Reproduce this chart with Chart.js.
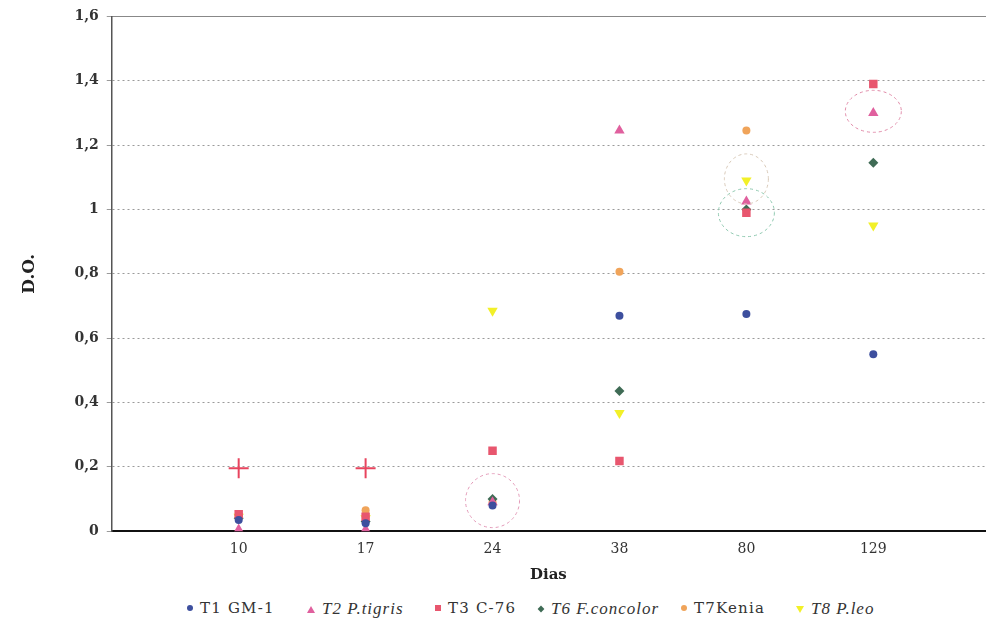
<!DOCTYPE html>
<html>
<head>
<meta charset="utf-8">
<script src="https://cdn.jsdelivr.net/npm/chart.js@4.4.1/dist/chart.umd.min.js"></script>
<style>
  html, body { margin: 0; padding: 0; background: #fff; }
  #wrap { position: relative; width: 989px; height: 584px; }
  #legend-container { position: relative; width: 989px; height: 42px; }
  .leg-li { position: absolute; top: 15px; display: flex; align-items: center; white-space: nowrap;
            font-family: "DejaVu Serif", "Liberation Serif", serif; font-size: 15px; letter-spacing: 1.2px; color: #333; }
  .leg-li i { font-family: "Liberation Serif", "DejaVu Serif", serif; font-size: 17px; letter-spacing: 1px; }
  .leg-box { display: inline-block; margin-right: 7px; }
</style>
</head>
<body>
<div id="wrap"><canvas id="myChart" width="989" height="584"></canvas></div>
<div id="legend-container"></div>
<script>
const days = ['10', '17', '24', '38', '80', '129'];
const yTicks = [0, 0.2, 0.4, 0.6, 0.8, 1, 1.2, 1.4, 1.6];

const t1 = [0.035, 0.025, 0.08, 0.67, 0.675, 0.55];
const t2 = [0.005, 0.005, 0.09, 1.245, 1.025, 1.30];
const t3 = [0.053, 0.045, 0.25, 0.218, 0.99, 1.39];
const t6 = [0.04, 0.03, 0.10, 0.436, 1.0, 1.145];
const t7 = [0.05, 0.065, 0.09, 0.806, 1.245, null];
const t8 = [0.045, 0.04, 0.685, 0.367, 1.09, 0.95];
const control = [0.196, 0.196, null, null, null, null];

// dashed rings drawn around some points: [day index, value, rx, ry, colour]
const rings = [
  [2, 0.095, 27, 27, '#e39ab8'],
  [4, 1.095, 22, 25, '#d8c9b8'],
  [4, 0.99, 28, 24, '#8fc9b0'],
  [5, 1.305, 28, 21, '#e08aa8']
];

function pts(arr) {
  return arr.map((v, i) => ({ x: i + 1, y: v }));
}

const ringPlugin = {
  id: 'rings',
  afterDatasetsDraw(chart) {
    const { ctx, scales } = chart;
    ctx.save();
    ctx.setLineDash([3, 3]);
    ctx.lineWidth = 1;
    rings.forEach(r => {
      const cx = scales.x.getPixelForValue(r[0] + 1);
      const cy = scales.y.getPixelForValue(r[1]);
      ctx.strokeStyle = r[4];
      ctx.beginPath();
      ctx.ellipse(cx, cy, r[2], r[3], 0, 0, Math.PI * 2);
      ctx.stroke();
    });
    ctx.restore();
  }
};

const series = [
  { label: 'T1 GM-1', html: 'T1 GM-1', data: t1, color: '#3d4f9e', style: 'circle', radius: 4, left: 187 },
  { label: 'T2 P.tigris', html: '<i>T2 P.tigris</i>', data: t2, color: '#e0609e', style: 'triangle', radius: 6, left: 307 },
  { label: 'T3 C-76', html: 'T3 C-76', data: t3, color: '#e8566e', style: 'rect', radius: 6, left: 435 },
  { label: 'T6 F.concolor', html: '<i>T6 F.concolor</i>', data: t6, color: '#3f6b55', style: 'rectRot', radius: 5, left: 538 },
  { label: 'T7Kenia', html: 'T7Kenia', data: t7, color: '#f0a45a', style: 'circle', radius: 4, left: 681 },
  { label: 'T8 P.leo', html: '<i>T8 P.leo</i>', data: t8, color: '#f2f028', style: 'triangle', radius: 6, rot: 180, left: 796 }
];

const datasets = series.map(s => ({
  label: s.label,
  data: pts(s.data),
  showLine: false,
  backgroundColor: s.color,
  borderColor: s.color,
  pointStyle: s.style,
  pointRadius: s.radius,
  pointRotation: s.rot || 0,
  borderWidth: 0
}));
datasets.push({
  label: '',
  data: pts(control),
  showLine: false,
  borderColor: '#e8445e',
  backgroundColor: '#e8445e',
  pointStyle: 'cross',
  pointRadius: 10,
  borderWidth: 2
});

// html legend so species names can be italic
const legendEl = document.getElementById('legend-container');
series.forEach(s => {
  const li = document.createElement('div');
  li.className = 'leg-li';
  li.style.left = s.left + 'px';
  const box = document.createElement('span');
  box.className = 'leg-box';
  box.style.width = '6px';
  box.style.height = '6px';
  box.style.background = s.color;
  if (s.style === 'circle') box.style.borderRadius = '4px';
  if (s.style === 'triangle') {
    box.style.background = 'none';
    box.style.width = '0';
    box.style.height = '0';
    box.style.borderLeft = '4px solid transparent';
    box.style.borderRight = '4px solid transparent';
    if (s.rot) box.style.borderTop = '7px solid ' + s.color;
    else box.style.borderBottom = '7px solid ' + s.color;
  }
  if (s.style === 'rectRot') box.style.transform = 'rotate(45deg) scale(0.8)';
  const p = document.createElement('span');
  p.innerHTML = s.html;
  li.append(box, p);
  legendEl.appendChild(li);
});

const serif = '"DejaVu Serif", "Liberation Serif", serif';

new Chart('myChart', {
  type: 'scatter',
  data: { datasets: datasets },
  plugins: [ringPlugin],
  options: {
    responsive: false,
    animation: false,
    layout: { autoPadding: false, padding: { top: 8, right: 4, left: 19, bottom: 0 } },
    plugins: {
      legend: { display: false },
      tooltip: { enabled: false }
    },
    scales: {
      x: {
        type: 'linear',
        min: 0,
        max: 6.88,
        afterBuildTicks: axis => { axis.ticks = days.map((_, i) => ({ value: i + 1 })); },
        grid: { display: false },
        border: { color: '#111', width: 2 },
        ticks: {
          color: '#333',
          font: { family: serif, size: 14 },
          padding: 2,
          callback: v => days[v - 1]
        },
        title: {
          display: true,
          text: 'Dias',
          color: '#222',
          font: { family: serif, size: 15, weight: 'bold' },
          padding: { top: 6, bottom: 0 }
        }
      },
      x2: {
        type: 'linear',
        position: 'top',
        min: 0,
        max: 6.88,
        grid: { display: false },
        ticks: { display: false },
        border: { color: '#888', width: 1 }
      },
      y: {
        min: 0,
        max: 1.6,
        afterBuildTicks: axis => { axis.ticks = yTicks.map(v => ({ value: v })); },
        grid: {
          color: '#9a9a9a',
          lineWidth: 1,
          tickLength: 5,
          drawOnChartArea: true
        },
        border: { color: '#555', width: 1.5, dash: [2, 3] },
        ticks: {
          color: '#333',
          padding: 8,
          font: { family: serif, size: 14, weight: 'bold' },
          callback: v => String(Math.round(v * 10) / 10).replace('.', ',')
        },
        title: {
          display: true,
          text: 'D.O.',
          color: '#222',
          font: { family: serif, size: 17, weight: 'bold' },
          padding: { top: 0, bottom: 27 }
        }
      }
    }
  }
});
</script>
</body>
</html>
